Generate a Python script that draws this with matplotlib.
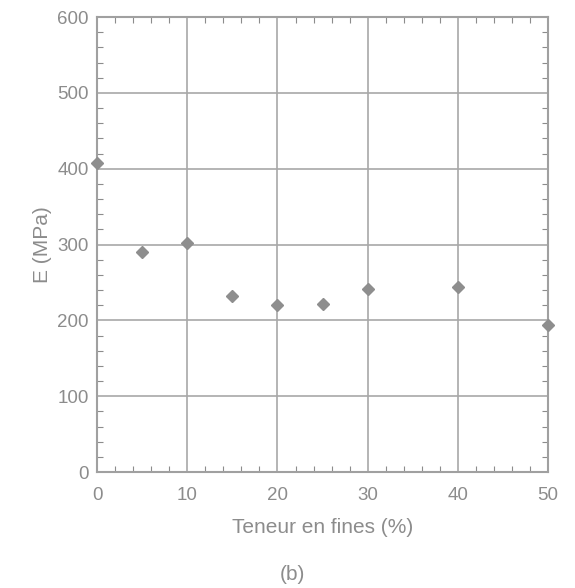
import numpy as np
import matplotlib.pyplot as plt
from matplotlib.ticker import MultipleLocator

# values
fines = [0, 5, 10, 15, 20, 25, 30, 40, 50]
modulus = [408, 290, 302, 232, 220, 222, 242, 244, 194]

GRAY = '#8c8c8c'
plt.rcParams['font.family'] = ['Liberation Sans', 'DejaVu Sans']

fig = plt.figure(figsize=(5.75, 5.88), dpi=100)
ax = fig.add_axes([0.169, 0.197, 0.784, 0.774])

ax.plot(fines, modulus, linestyle='none', marker='D', markersize=6.5,
        color='#8e8e8e', clip_on=False, zorder=3)

ax.set_xlim(0, 50)
ax.set_ylim(0, 600)
ax.xaxis.set_major_locator(MultipleLocator(10))
ax.xaxis.set_minor_locator(MultipleLocator(2))
ax.yaxis.set_major_locator(MultipleLocator(100))
ax.yaxis.set_minor_locator(MultipleLocator(20))
ax.grid(True, which='major', color='#a8a8a8', linewidth=1.2)
ax.tick_params(which='both', direction='in', top=True, right=True,
               color=GRAY, labelcolor=GRAY, labelsize=13.5)
ax.tick_params(which='major', length=0)
ax.tick_params(axis='x', which='major', pad=11)
ax.tick_params(axis='y', which='major', pad=6)
ax.tick_params(which='minor', length=4, width=0.8)
for s in ax.spines.values():
    s.set_color('#a0a0a0')
    s.set_linewidth(1.5)

ax.set_ylabel('E (MPa)', color=GRAY, fontsize=15, labelpad=4)
ax.set_xlabel('Teneur en fines (%)', color=GRAY, fontsize=15, labelpad=10)
fig.text(0.508, 0.014, '(b)', color=GRAY, fontsize=15, ha='center')

fig.savefig('out.png', dpi=100, facecolor='white')
